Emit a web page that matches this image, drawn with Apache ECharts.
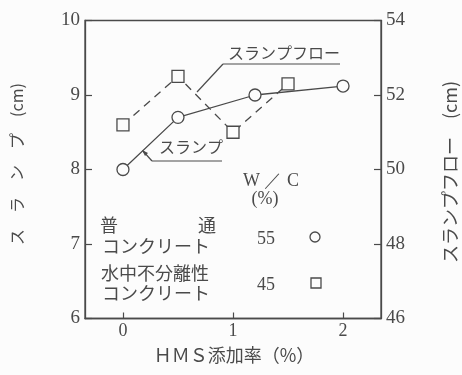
<!DOCTYPE html>
<html>
<head>
<meta charset="utf-8">
<script src="https://cdn.jsdelivr.net/npm/echarts@6/dist/echarts.min.js"></script>
<style>
  html, body { margin: 0; padding: 0; background: #fcfcfc; }
  #chart { width: 462px; height: 375px; }
</style>
</head>
<body>
<div id="chart"></div>
<script>
// HMS addition rate (%) for each measurement
const slumpRate = [0, 0.5, 1.2, 2.0];
// Slump (cm), ordinary concrete, W/C 55 %
const slumpValues = [8.0, 8.7, 9.0, 9.12];
const flowRate = [0, 0.5, 1.0, 1.5];
// Slump flow (cm), anti-washout concrete, W/C 45 %
const flowValues = [51.2, 52.5, 51.0, 52.3];
// Tick labels
const xTicks = [0, 1, 2];

const INK = '#4a4a4a';
const SERIF = '"Liberation Serif", "DejaVu Serif", serif';
const JP = '"Noto Sans CJK JP", sans-serif';

const chart = echarts.init(document.getElementById('chart'), null, { renderer: 'canvas' });

function textEl(x, y, s, opt) {
  opt = opt || {};
  return {
    type: 'text', x: x, y: y, rotation: opt.rotation || 0,
    style: {
      text: s, fill: INK,
      font: (opt.size || 16) + 'px ' + (opt.family || JP),
      align: opt.align || 'left', verticalAlign: 'middle'
    }
  };
}
function lineEl(x1, y1, x2, y2) {
  return { type: 'line', shape: { x1: x1, y1: y1, x2: x2, y2: y2 },
           style: { stroke: INK, lineWidth: 1.2 } };
}

chart.setOption({
  backgroundColor: '#fcfcfc',
  animation: false,
  grid: { left: 85, right: 81, top: 20.5, bottom: 56.5, show: true,
          borderColor: INK, borderWidth: 1.3, backgroundColor: 'transparent' },
  xAxis: {
    type: 'value', min: -0.345, max: 2.345,
    axisLine: { show: true, onZero: false, lineStyle: { color: INK, width: 1.3 } },
    axisTick: { show: true, inside: true, length: 6, customValues: xTicks,
                lineStyle: { color: INK, width: 1.2 } },
    axisLabel: { customValues: xTicks, color: INK, fontFamily: SERIF, fontSize: 18, margin: 4 },
    splitLine: { show: false }
  },
  yAxis: [
    {
      type: 'value', min: 6, max: 10, interval: 1, position: 'left',
      axisLine: { show: true, onZero: false, lineStyle: { color: INK, width: 1.3 } },
      axisTick: { show: true, inside: true, length: 7, lineStyle: { color: INK, width: 1.2 } },
      axisLabel: { color: INK, fontFamily: SERIF, fontSize: 19, margin: 5 },
      splitLine: { show: false }
    },
    {
      type: 'value', min: 46, max: 54, interval: 2, position: 'right',
      axisLine: { show: true, onZero: false, lineStyle: { color: INK, width: 1.3 } },
      axisTick: { show: true, inside: true, length: 7, lineStyle: { color: INK, width: 1.2 } },
      axisLabel: { color: INK, fontFamily: SERIF, fontSize: 19, margin: 5 },
      splitLine: { show: false }
    }
  ],
  series: [
    {
      name: 'スランプ', type: 'line', yAxisIndex: 0,
      data: slumpRate.map((x, i) => [x, slumpValues[i]]),
      symbol: 'circle', symbolSize: 12, showAllSymbol: true,
      lineStyle: { color: INK, width: 1.3 },
      itemStyle: { color: '#fcfcfc', borderColor: INK, borderWidth: 1.3 },
      z: 3
    },
    {
      name: 'スランプフロー', type: 'line', yAxisIndex: 1,
      data: flowRate.map((x, i) => [x, flowValues[i]]),
      symbol: 'rect', symbolSize: 12, showAllSymbol: true,
      lineStyle: { color: INK, width: 1.3, type: [8, 6] },
      itemStyle: { color: '#fcfcfc', borderColor: INK, borderWidth: 1.3 },
      z: 2
    }
  ],
  graphic: [
    // axis titles
    textEl(17, 164, 'ス　ラ　ン　プ　(cm)', { rotation: Math.PI / 2, align: 'center', size: 16 }),
    textEl(450, 172, 'スランプフロー　(cm)', { rotation: Math.PI / 2, align: 'center', size: 18 }),
    textEl(234, 355, 'ＨＭＳ添加率（%）', { align: 'center', size: 18 }),
    // curve annotations
    textEl(284, 53, 'スランプフロー', { align: 'center', size: 16 }),
    lineEl(223, 64, 340, 64),
    lineEl(223, 64, 197, 92),
    textEl(191, 147, 'スランプ', { align: 'center', size: 16 }),
    lineEl(152, 161, 222, 161),
    lineEl(152, 161, 143, 151),
    { type: 'polygon', shape: { points: [[142, 150], [148, 153], [145, 156]] },
      style: { fill: INK } },
    // legend block
    textEl(271, 181, 'W ／ C', { align: 'center', size: 18, family: SERIF }),
    textEl(265, 199, '(%)', { align: 'center', size: 18, family: SERIF }),
    textEl(100, 225, '普', { size: 18 }),
    textEl(198, 225, '通', { size: 18 }),
    textEl(102, 246, 'コンクリート', { size: 18 }),
    textEl(266, 239, '55', { align: 'center', size: 18, family: SERIF }),
    { type: 'circle', shape: { cx: 315, cy: 237, r: 5 },
      style: { fill: 'none', stroke: INK, lineWidth: 1.3 } },
    textEl(101, 273, '水中不分離性', { size: 18 }),
    textEl(102, 293, 'コンクリート', { size: 18 }),
    textEl(266, 285, '45', { align: 'center', size: 18, family: SERIF }),
    { type: 'rect', shape: { x: 311, y: 278, width: 10, height: 10 },
      style: { fill: 'none', stroke: INK, lineWidth: 1.3 } }
  ]
});
</script>
</body>
</html>
